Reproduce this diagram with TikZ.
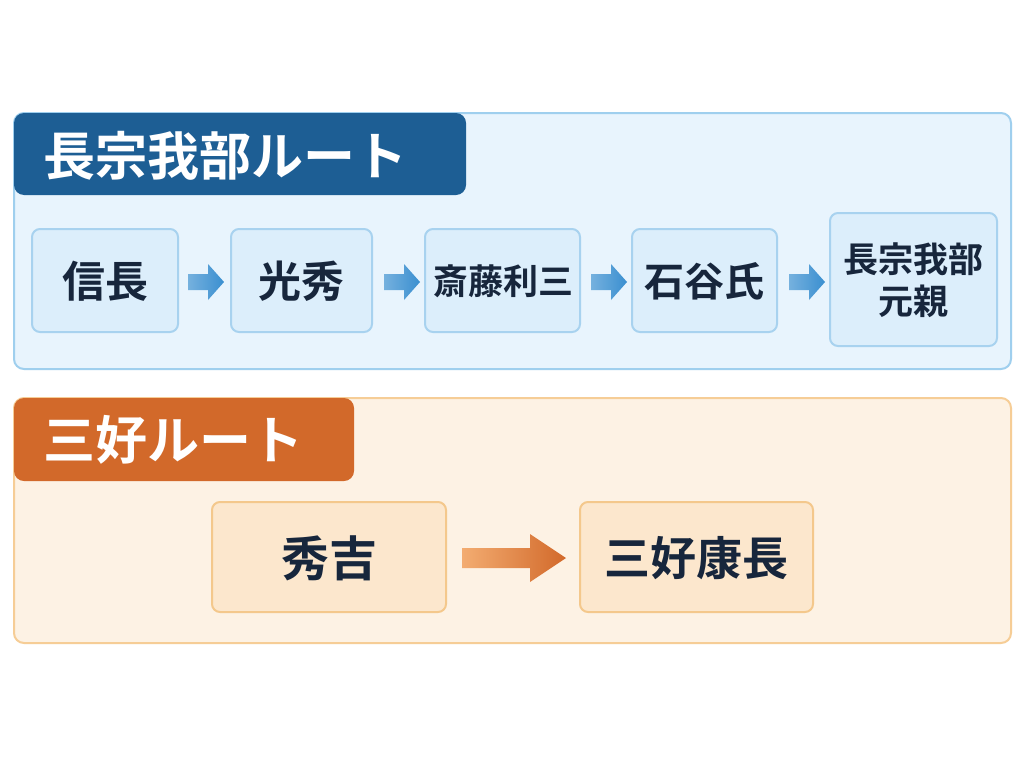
\documentclass[tikz,border=0pt]{standalone}
\usepackage{fontspec}
\setmainfont{Noto Sans CJK JP}[BoldFont={* Bold}]
\usetikzlibrary{shadings}
\definecolor{bpanel}{HTML}{E8F4FD}
\definecolor{bborder}{HTML}{9FCFEE}
\definecolor{bhead}{HTML}{1D5E94}
\definecolor{bnode}{HTML}{DCEEFB}
\definecolor{bnb}{HTML}{A8D2EF}
\definecolor{barrow}{HTML}{3A8FD0}
\definecolor{opanel}{HTML}{FDF2E4}
\definecolor{oborder}{HTML}{F6CD96}
\definecolor{ohead}{HTML}{D2692A}
\definecolor{onode}{HTML}{FCE7CD}
\definecolor{onb}{HTML}{F4C88C}
\definecolor{txt}{HTML}{17263C}
\begin{document}
\begin{tikzpicture}[x=1pt,y=-1pt,
  panel/.style={draw, line width=2pt, rounded corners=10pt},
  head/.style={rounded corners=10pt},
  htext/.style={anchor=west, text=white, font=\bfseries\fontsize{52}{56}\selectfont},
  bn/.style={draw=bnb, fill=bnode, line width=2pt, rounded corners=8pt},
  on/.style={draw=onb, fill=onode, line width=2pt, rounded corners=8pt},
  lab/.style={text=txt, align=center, font=\bfseries\fontsize{#1}{42}\selectfont}]
\useasboundingbox (0,0) rectangle (1024,768);
\fill[white] (0,0) rectangle (1024,768);
% top panel
\draw[panel, draw=bborder, fill=bpanel] (14,113) rectangle (1011,369);
\fill[head, bhead] (14,113) rectangle (466,195);
\node[htext] (h1) at (40,156) {長宗我部ルート};
\path[bn] (32,229) rectangle (178,332);
\node[lab=43] (n1) at (105,281) {信長};
\path[bn] (231,229) rectangle (372,332);
\node[lab=43] (n2) at (301,281) {光秀};
\path[bn] (425,229) rectangle (580,332);
\node[lab=35] (n3) at (503,281) {斎藤利三};
\path[bn] (632,229) rectangle (777,332);
\node[lab=40] (n4) at (704,281) {石谷氏};
\path[bn] (830,213) rectangle (997,346);
\node[lab=35] (n5) at (913,280) {長宗我部\\元親};
\foreach \x in {188,384,591,789}{
  \shade[left color=barrow!70, right color=barrow] (\x,274) -- (\x+20,274) -- (\x+20,264) -- (\x+36,282) -- (\x+20,300) -- (\x+20,290) -- (\x,290) -- cycle;
}
% bottom panel
\draw[panel, draw=oborder, fill=opanel] (14,398) rectangle (1011,643);
\fill[head, ohead] (14,398) rectangle (354,481);
\node[htext] (h2) at (40,440) {三好ルート};
\path[on] (212,502) rectangle (446,612);
\node[lab=48] (m1) at (329,558) {秀吉};
\path[on] (580,502) rectangle (813,612);
\node[lab=46] (m2) at (696,558) {三好康長};
\shade[left color=ohead!45!orange!60, right color=ohead] (462,548) -- (530,548) -- (530,534) -- (566,558) -- (530,582) -- (530,568) -- (462,568) -- cycle;
\end{tikzpicture}
\end{document}
